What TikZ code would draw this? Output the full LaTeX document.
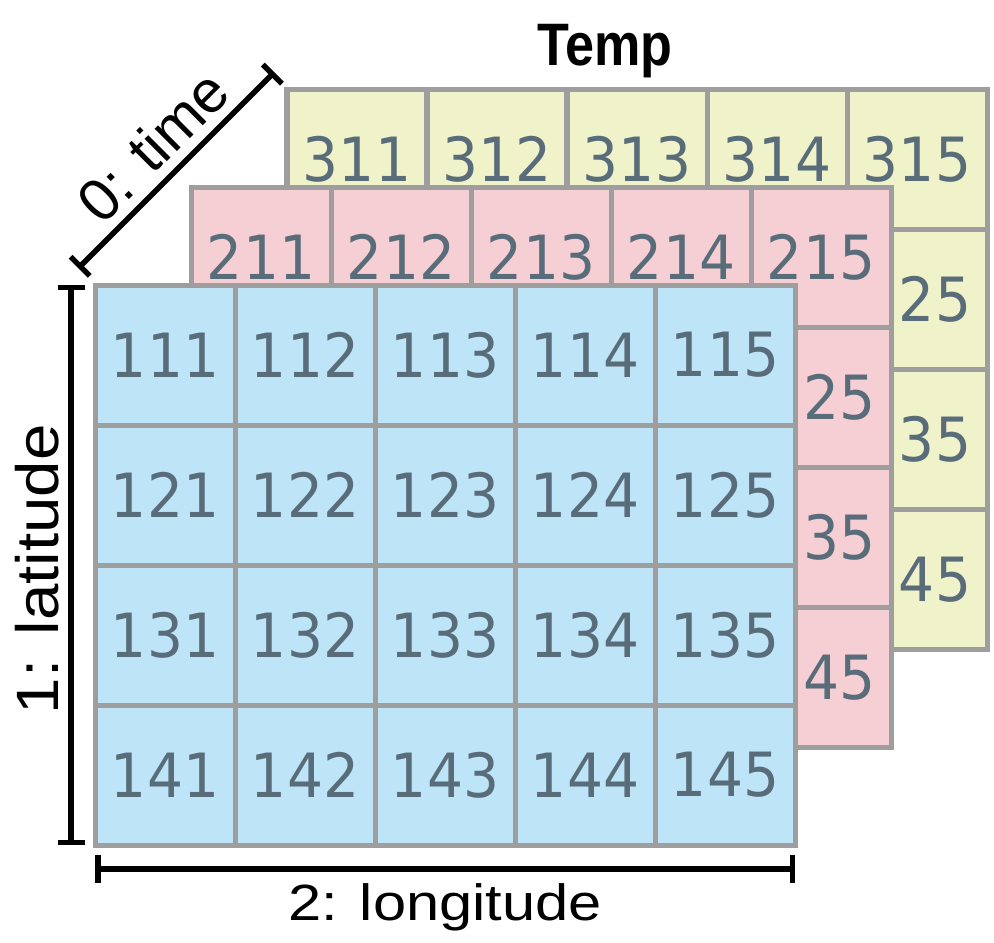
\documentclass[tikz,border=0pt]{standalone}
\usepackage{fontspec}
\usepackage{graphicx}
\usetikzlibrary{arrows.meta}

\newfontfamily\cellfont{DejaVu Sans}
\newfontfamily\labelfont{Liberation Sans}
\newcommand{\cellnum}[1]{\scalebox{0.93}[1]{#1}}

\definecolor{cellblue}{RGB}{190,228,247}
\definecolor{cellpink}{RGB}{246,207,212}
\definecolor{cellyellow}{RGB}{240,243,201}
\definecolor{cellline}{RGB}{158,158,158}
\definecolor{celltext}{RGB}{89,108,122}

\tikzset{
    layer/.style={draw=cellline, line width=2.85pt},
    num/.style={font=\cellfont\fontsize{34.7}{40}\selectfont, text=celltext, inner sep=0pt},
    dim/.style={line width=3.1pt, {Bar[width=15.4pt]}-{Bar[width=15.4pt]}},
    axislabel/.style={font=\labelfont\fontsize{34}{40}\selectfont, inner sep=0pt, anchor=base},
}

\begin{document}
\begin{tikzpicture}[x=2.8cm,y=2.8cm]
    \useasboundingbox (-0.679,-0.693) rectangle (6.421,6.036);

    % back slice
    \begin{scope}[shift={(1.371,1.4)}]
        \fill[cellyellow] (0,0) rectangle (5,4);
        \foreach \c in {0,...,4} \foreach \r in {0,...,3} \draw[layer] (\c,\r) rectangle ++(1,1);
        \foreach \c in {1,...,5} \node[num] (n31\c) at (\c-0.5,3.5) {\cellnum{31\c}};
        \node[num] (n325) at (4.5,2.5) {\cellnum{\phantom{3}25}};
        \node[num] (n335) at (4.5,1.5) {\cellnum{\phantom{3}35}};
        \node[num] (n345) at (4.5,0.5) {\cellnum{\phantom{3}45}};
    \end{scope}

    % middle slice
    \begin{scope}[shift={(0.686,0.7)}]
        \fill[cellpink] (0,0) rectangle (5,4);
        \foreach \c in {0,...,4} \foreach \r in {0,...,3} \draw[layer] (\c,\r) rectangle ++(1,1);
        \foreach \c in {1,...,5} \node[num] (n21\c) at (\c-0.5,3.5) {\cellnum{21\c}};
        \node[num] (n225) at (4.5,2.5) {\cellnum{\phantom{2}25}};
        \node[num] (n235) at (4.5,1.5) {\cellnum{\phantom{2}35}};
        \node[num] (n245) at (4.5,0.5) {\cellnum{\phantom{2}45}};
    \end{scope}

    % front slice
    \fill[cellblue] (0,0) rectangle (5,4);
    \foreach \c in {0,...,4} \foreach \r in {0,...,3} \draw[layer] (\c,\r) rectangle ++(1,1);
    \foreach \r in {1,...,4} \foreach \c in {1,...,5} \node[num] (n1\r\c) at (\c-0.5,4.5-\r) {\cellnum{1\r\c}};

    % dimensions
    \coordinate (timeA) at (-0.12,4.12);
    \coordinate (timeB) at (1.28,5.52);
    \coordinate (latTop) at (-0.171,4);
    \coordinate (latBot) at (-0.171,0);
    \coordinate (lonL) at (0,-0.171);
    \coordinate (lonR) at (5,-0.171);
    \draw[dim] (timeA) -- (timeB);
    \draw[dim] (latTop) -- (latBot);
    \draw[dim] (lonL) -- (lonR);

    \node[axislabel, rotate=45] (timelabel) at (0.517,4.883) {0: time};
    \node[axislabel, rotate=90] (latlabel) at (-0.261,1.97) {\scalebox{1.095}[1]{1: latitude}};
    \node[axislabel, font=\labelfont\fontsize{29}{34}\selectfont] (lonlabel) at (2.5,-0.536) {\scalebox{1.17}[1]{2: longitude}};
    \node[axislabel, font=\labelfont\bfseries\fontsize{34.1}{40}\selectfont] (title) at (3.643,5.571) {\scalebox{0.87}[1]{Temp}};
\end{tikzpicture}
\end{document}
